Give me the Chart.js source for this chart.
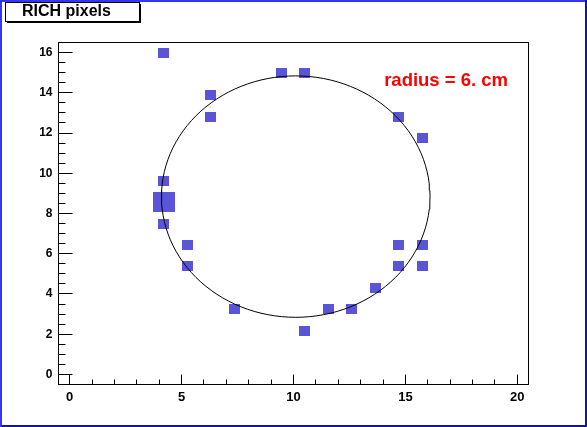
<!DOCTYPE html>
<html lang="en">
<head>
    <meta charset="UTF-8">
    <title>RICH pixels</title>
    <script src="https://cdn.jsdelivr.net/npm/chart.js"></script>
    <style>
        body { margin: 0; background: #fff; }
        canvas { display: block; }
    </style>
</head>
<body>
    <canvas id="richChart" width="587" height="427"></canvas>

    <script>
        // hit pixels: bin centres and contents
        const pixelX = [4.18, 9.45, 10.48, 6.28, 6.28, 14.68, 15.76, 4.18, 4.2, 4.18, 5.25,
                        14.68, 15.76, 5.25, 14.68, 15.76, 13.66, 7.35, 11.56, 12.58, 10.48];
        const pixelY = [15.97, 14.97, 14.97, 13.88, 12.81, 12.80, 11.75, 9.62, 8.58, 7.47, 6.42,
                        6.42, 6.42, 5.38, 5.38, 5.38, 4.28, 3.24, 3.24, 3.24, 2.18];
        const pixelContent = [1, 1, 1, 1, 1, 1, 1, 1, 2, 1, 1, 1, 1, 1, 1, 1, 1, 1, 1, 1, 1];

        // fitted ring
        const ringCenter = [10.1, 8.84];
        const ringRadius = 6;
        const ringLabel = 'radius = 6. cm';
        const ringLabelPos = [14.05, 14.33];

        const title = 'RICH pixels';
        const xTickLabels = [0, 5, 10, 15, 20];
        const yTickLabels = [0, 2, 4, 6, 8, 10, 12, 14, 16];

        const boxColor = '#5954d8';
        const font = '"Liberation Sans", Arial, sans-serif';
        const maxContent = Math.max(...pixelContent);

        // ring outline as a polyline
        const ringPoints = [];
        for (let i = 0; i <= 120; i++) {
            const t = i / 120 * 2 * Math.PI;
            ringPoints.push({ x: ringCenter[0] + ringRadius * Math.cos(t), y: ringCenter[1] + ringRadius * Math.sin(t) });
        }

        // box marker images, size follows bin content
        const boxCache = {};
        function boxImage(w, h) {
            const key = w + 'x' + h;
            if (!boxCache[key]) {
                const c = document.createElement('canvas');
                c.width = w;
                c.height = h;
                const g = c.getContext('2d');
                g.fillStyle = boxColor;
                g.fillRect(0, 0, w, h);
                boxCache[key] = c;
            }
            return boxCache[key];
        }

        const rootStyle = {
            id: 'rootStyle',
            beforeDraw(chart) {
                const ctx = chart.ctx;
                const W = chart.width, H = chart.height;
                ctx.save();
                ctx.fillStyle = '#fff';
                ctx.fillRect(0, 0, W, H);
                // pad bevel
                ctx.fillStyle = '#3535f5';
                ctx.fillRect(0, 0, W, 2);
                ctx.fillRect(0, 0, 2, H);
                ctx.fillStyle = '#15159a';
                ctx.fillRect(W - 2, 0, 2, H);
                ctx.fillRect(2, H - 2, W - 2, 2);
                // title pave with shadow
                ctx.fillStyle = '#000';
                ctx.fillRect(7, 21, 134, 2);
                ctx.fillRect(139, 4, 2, 19);
                ctx.fillStyle = '#fff';
                ctx.fillRect(6, 3, 133, 18);
                ctx.strokeStyle = '#000';
                ctx.lineWidth = 1;
                ctx.strokeRect(5.5, 2.5, 134, 19);
                ctx.fillStyle = '#000';
                ctx.font = 'bold 16px ' + font;
                ctx.textBaseline = 'alphabetic';
                ctx.fillText(title, 22, 16);
                ctx.restore();
            },
            afterDraw(chart) {
                const ctx = chart.ctx;
                const a = chart.chartArea;
                const xs = chart.scales.x, ys = chart.scales.y;
                ctx.save();
                ctx.strokeStyle = '#000';
                ctx.lineWidth = 1;
                ctx.strokeRect(Math.floor(a.left) + 0.5, Math.floor(a.top) + 0.5,
                    Math.round(a.right - a.left), Math.round(a.bottom - a.top));
                const bottom = Math.floor(a.bottom) + 0.5;
                const left = Math.floor(a.left) + 0.5;
                ctx.beginPath();
                // x ticks, minor every 1
                for (let v = xTickLabels[0]; v <= xTickLabels[xTickLabels.length - 1]; v += 1) {
                    const px = Math.floor(xs.getPixelForValue(v)) + 0.5;
                    const len = xTickLabels.includes(v) ? 10 : 5;
                    ctx.moveTo(px, bottom);
                    ctx.lineTo(px, bottom - len);
                }
                // y ticks, minor every 0.5
                for (let v = yTickLabels[0]; v <= yTickLabels[yTickLabels.length - 1]; v += 0.5) {
                    const py = Math.floor(ys.getPixelForValue(v)) + 0.5;
                    const len = yTickLabels.includes(v) ? 14 : 7;
                    ctx.moveTo(left, py);
                    ctx.lineTo(left + len, py);
                }
                ctx.stroke();
                // ring label
                ctx.fillStyle = '#ff0000';
                ctx.font = 'bold 18.5px ' + font;
                ctx.textBaseline = 'alphabetic';
                ctx.fillText(ringLabel, xs.getPixelForValue(ringLabelPos[0]), ys.getPixelForValue(ringLabelPos[1]));
                ctx.restore();
            }
        };

        const ctx = document.getElementById('richChart').getContext('2d');
        const richChart = new Chart(ctx, {
            type: 'scatter',
            data: {
                datasets: [{
                    label: 'pixels',
                    data: pixelX.map((x, i) => ({ x: x, y: pixelY[i] })),
                    pointRadius: 5,
                    pointStyle: c => {
                        const s = c.chart.scales;
                        if (!s.x || !s.y) return 'rect';
                        const f = 0.98 * pixelContent[c.dataIndex] / maxContent;
                        const w = Math.round(s.x.getPixelForValue(f) - s.x.getPixelForValue(0));
                        const h = Math.round(s.y.getPixelForValue(0) - s.y.getPixelForValue(f));
                        if (w <= 0 || h <= 0) return 'rect';
                        return boxImage(w, h);
                    },
                    backgroundColor: boxColor,
                    borderWidth: 0,
                    order: 1
                }, {
                    label: 'ring',
                    data: ringPoints,
                    showLine: true,
                    pointRadius: 0,
                    borderColor: '#000',
                    borderWidth: 1,
                    tension: 0,
                    fill: false,
                    order: 0
                }]
            },
            options: {
                responsive: false,
                animation: false,
                events: [],
                layout: { padding: { top: 42.5, right: 58.5, left: 0, bottom: 0 } },
                plugins: {
                    legend: { display: false },
                    tooltip: { enabled: false }
                },
                scales: {
                    x: {
                        type: 'linear',
                        min: -0.5,
                        max: 20.5,
                        grid: { display: false, drawTicks: false },
                        border: { display: false },
                        afterBuildTicks: scale => { scale.ticks = xTickLabels.map(v => ({ value: v })); },
                        afterFit: scale => { scale.height = 42.5; },
                        ticks: {
                            autoSkip: false,
                            maxRotation: 0,
                            padding: 5,
                            color: '#000',
                            font: { family: font, size: 13, weight: 'bold' }
                        }
                    },
                    y: {
                        type: 'linear',
                        min: -0.5,
                        max: 16.5,
                        grid: { display: false, drawTicks: false },
                        border: { display: false },
                        afterBuildTicks: scale => { scale.ticks = yTickLabels.map(v => ({ value: v })); },
                        afterFit: scale => { scale.width = 58.5; },
                        ticks: {
                            autoSkip: false,
                            padding: 6,
                            color: '#000',
                            font: { family: font, size: 12, weight: 'bold' }
                        }
                    }
                }
            },
            plugins: [rootStyle]
        });
    </script>
</body>
</html>
